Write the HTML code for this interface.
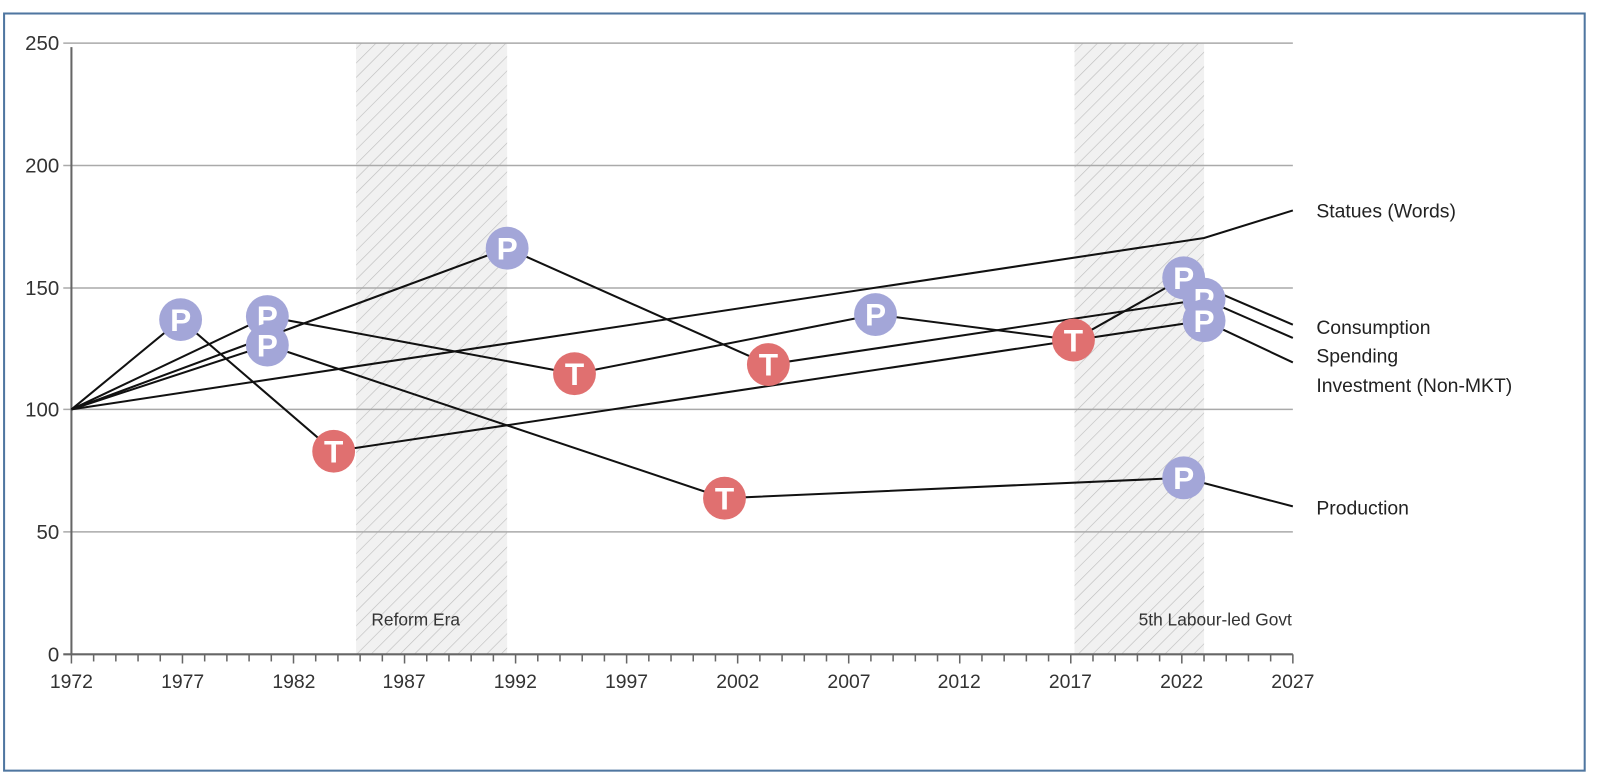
<!DOCTYPE html>
<html><head><meta charset="utf-8"><style>
html,body{margin:0;padding:0;background:#fff;}
svg{display:block;}
text{font-family:"Liberation Sans","DejaVu Sans",sans-serif;}
</style></head><body>
<svg width="1600" height="777" viewBox="0 0 1568 761" xmlns="http://www.w3.org/2000/svg">
<defs>
<pattern id="h" width="10" height="10" patternUnits="userSpaceOnUse" patternTransform="rotate(45)">
<rect width="10" height="10" fill="#f1f1f1"/>
<line x1="0" y1="0" x2="0" y2="10" stroke="#bdbdbd" stroke-width="1.2"/>
</pattern>
</defs>
<rect x="4" y="13" width="1549" height="742" fill="#fff" stroke="#4f76a0" stroke-width="2"/>
<rect x="349" y="42" width="148" height="599" fill="url(#h)"/>
<rect x="1053" y="42" width="127" height="599" fill="url(#h)"/>
<g stroke="#aaa" stroke-width="1.5">
<line x1="62" y1="42" x2="1267" y2="42"/>
<line x1="62" y1="162" x2="1267" y2="162"/>
<line x1="62" y1="282" x2="1267" y2="282"/>
<line x1="62" y1="401" x2="1267" y2="401"/>
<line x1="62" y1="521" x2="1267" y2="521"/>
</g>
<line x1="70" y1="46" x2="70" y2="641" stroke="#666" stroke-width="2"/>
<line x1="62" y1="641" x2="1267" y2="641" stroke="#666" stroke-width="2"/>
<g stroke="#666" stroke-width="1.5" id="ticks"></g>
<g font-size="20" fill="#333" text-anchor="end">
<text x="58" y="49">250</text><text x="58" y="169">200</text><text x="58" y="289">150</text>
<text x="58" y="408">100</text><text x="58" y="528">50</text><text x="58" y="648">0</text>
</g>
<g font-size="19" fill="#333" text-anchor="middle">
<text x="70" y="674">1972</text><text x="179" y="674">1977</text><text x="288" y="674">1982</text>
<text x="396" y="674">1987</text><text x="505" y="674">1992</text><text x="614" y="674">1997</text>
<text x="723" y="674">2002</text><text x="832" y="674">2007</text><text x="940" y="674">2012</text>
<text x="1049" y="674">2017</text><text x="1158" y="674">2022</text><text x="1267" y="674">2027</text>
</g>
<g font-size="17" fill="#333">
<text x="364" y="613">Reform Era</text>
<text x="1266" y="613" text-anchor="end">5th Labour-led Govt</text>
</g>
<g fill="none" stroke="#111" stroke-width="2">
<polyline points="70,401 1180,233 1267,206"/>
<polyline points="70,401 262,310 563,366 858,308 1052,333 1160,272 1267,318"/>
<polyline points="70,401 497,243 753,357 1180,293 1267,331"/>
<polyline points="70,401 177,313 327,442 1180,314 1267,355"/>
<polyline points="70,401 262,338 710,488 1160,468 1267,496"/>
</g>
<g font-size="19" fill="#222">
<text x="1290" y="213">Statues (Words)</text>
<text x="1290" y="327">Consumption</text>
<text x="1290" y="355">Spending</text>
<text x="1290" y="384">Investment (Non-MKT)</text>
<text x="1290" y="504">Production</text>
</g>
<g font-size="31" font-weight="bold" fill="#fff" text-anchor="middle">
<g><circle cx="177" cy="313" r="21" fill="#a3a6d8"/><text x="177" y="324">P</text></g>
<g><circle cx="262" cy="310" r="21" fill="#a3a6d8"/><text x="262" y="321">P</text></g>
<g><circle cx="262" cy="338" r="21" fill="#a3a6d8"/><text x="262" y="349">P</text></g>
<g><circle cx="497" cy="243" r="21" fill="#a3a6d8"/><text x="497" y="254">P</text></g>
<g><circle cx="858" cy="308" r="21" fill="#a3a6d8"/><text x="858" y="319">P</text></g>
<g><circle cx="327" cy="442" r="21" fill="#e07070"/><text x="327" y="453">T</text></g>
<g><circle cx="563" cy="366" r="21" fill="#e07070"/><text x="563" y="377">T</text></g>
<g><circle cx="753" cy="357" r="21" fill="#e07070"/><text x="753" y="368">T</text></g>
<g><circle cx="710" cy="488" r="21" fill="#e07070"/><text x="710" y="499">T</text></g>
<g><circle cx="1052" cy="333" r="21" fill="#e07070"/><text x="1052" y="344">T</text></g>
<g><circle cx="1160" cy="272" r="21" fill="#a3a6d8"/><text x="1160" y="283">P</text></g>
<g><circle cx="1180" cy="293" r="21" fill="#a3a6d8"/><text x="1180" y="304">P</text></g>
<g><circle cx="1180" cy="314" r="21" fill="#a3a6d8"/><text x="1180" y="325">P</text></g>
<g><circle cx="1160" cy="468" r="21" fill="#a3a6d8"/><text x="1160" y="479">P</text></g>
</g>
</svg>
<script>
var g=document.getElementById('ticks');
for(var i=0;i<=55;i++){var x=70+i*1197/55;var l=document.createElementNS('http://www.w3.org/2000/svg','line');
l.setAttribute('x1',x);l.setAttribute('x2',x);l.setAttribute('y1',641);l.setAttribute('y2',i%5==0?650:648);g.appendChild(l);}
</script>
</body></html>
